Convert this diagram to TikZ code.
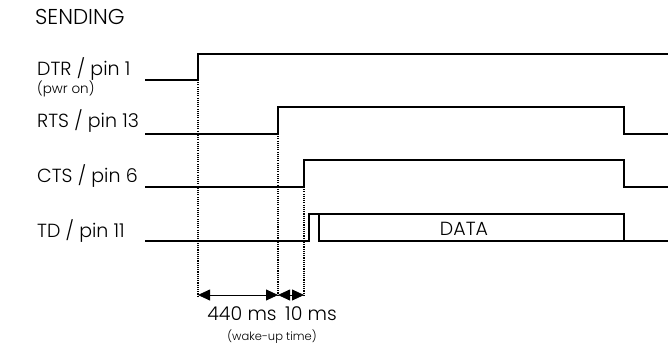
\documentclass[tikz,border=0pt]{standalone}
\usepackage{fontspec}
\setmainfont{Poppins}[UprightFont=* Light]
\usetikzlibrary{arrows.meta,positioning}
\begin{document}
\begin{tikzpicture}[x=1pt,y=-1pt,
    signal/.style={line width=1.6pt,line join=miter},
    hilfslinie/.style={line width=1.1pt,dash pattern=on 1.1pt off 1.1pt},
    masspfeil/.style={{Triangle[length=12pt,width=11pt]}-{Triangle[length=12pt,width=11pt]},line width=0.8pt},
    txt/.style={anchor=base west,inner sep=0pt,font=\fontsize{19}{22}\selectfont},
    klein/.style={inner sep=0pt,font=\fontsize{13.5}{16}\selectfont}]
    \useasboundingbox (0,0) rectangle (668,347);
    % Beschriftungen
    \node[txt,font=\fontsize{21.5}{24}\selectfont] (titel) at (35,25) {SENDING};
    \node[txt] (dtr) at (37,76) {DTR / pin 1};
    \node[klein,anchor=base west] (pwr) at (37,94) {(pwr on)};
    \node[txt] (rts) at (37,128) {RTS / pin 13};
    \node[txt] (cts) at (37,183) {CTS / pin 6};
    \node[txt] (td) at (37,237) {TD / pin 11};
    % Zeitpunkte
    \foreach \n/\x in {ta/198,tb/278,tc/304,td/309,te/319,tf/624}
    \coordinate (\n) at (\x,0);
    % Signale
    \draw[signal] (145,80) -| (198,54) -- (668,54);
    \draw[signal] (145,134) -| (278,107) -| (624,134) -- (668,134);
    \draw[signal] (145,187) -| (304,160) -| (624,187) -- (668,187);
    \draw[signal] (145,241) -| (309,214) -| (624,241) -- (668,241);
    \draw[signal] (319,214) |- (624,241);
    \node[txt,anchor=base] (data) at (464,235) {DATA};
    % Gepunktete Linien
    \foreach \n/\y in {ta/80,tb/134,tc/187}
    \draw[hilfslinie] (\n |- 0,\y) -- (\n |- 0,296);
    % Masspfeile
    \coordinate (pa) at (ta |- 0,295);
    \coordinate (pb) at (tb |- 0,295);
    \coordinate (pc) at (tc |- 0,295);
    \draw[masspfeil] (pa) -- (pb);
    \draw[masspfeil] (pb) -- (pc);
    \node[txt,anchor=base] (t440) at (242,320) {440 ms};
    \node[txt,anchor=base] (t10) at (311,320) {10 ms};
    \node[klein,anchor=base,font=\fontsize{11.5}{13}\selectfont] (wake) at (272,340) {(wake-up time)};
\end{tikzpicture}
\end{document}
